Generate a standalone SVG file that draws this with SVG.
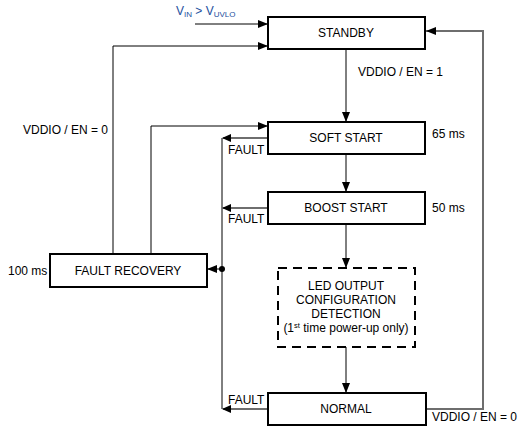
<svg xmlns="http://www.w3.org/2000/svg" width="525" height="431" viewBox="0 0 525 431">
<style>
text{font-family:"Liberation Sans",Arial,sans-serif;font-size:12px;fill:#000}
.c{text-anchor:middle}
.box{fill:#fff;stroke:#000;stroke-width:2}
.dash{fill:#fff;stroke:#000;stroke-width:2;stroke-dasharray:9,6}
.k{fill:none;stroke:#000;stroke-width:1}
.g{fill:none;stroke:#6e6e6e;stroke-width:2}
.blue{fill:#1e4f9e}
</style>
<defs>
<marker id="a" markerWidth="10" markerHeight="8" refX="9" refY="4" orient="auto" markerUnits="userSpaceOnUse"><path d="M0,0L10,4L0,8Z" fill="#000"/></marker>
</defs>
<rect width="525" height="431" fill="#fff"/>
<g id="connectors">
<line class="k" x1="195" y1="24" x2="267" y2="24" marker-end="url(#a)"/>
<line class="k" x1="346" y1="50" x2="346" y2="121" marker-end="url(#a)"/>
<line class="k" x1="346" y1="155" x2="346" y2="191" marker-end="url(#a)"/>
<line class="k" x1="346" y1="225" x2="346" y2="267" marker-end="url(#a)"/>
<line class="k" x1="346" y1="347" x2="346" y2="392" marker-end="url(#a)"/>
<polyline class="k" points="113,254 113,46 267,46" marker-end="url(#a)"/>
<polyline class="k" points="151,254 151,126 267,126" marker-end="url(#a)"/>
<polyline class="g" points="267,138 223,138"/>
<path d="M222,138 l9,-4 v8z" fill="#000"/>
<polyline class="g" points="267,208 223,208"/>
<path d="M222,208 l9,-4 v8z" fill="#000"/>
<polyline class="g" points="267,409 223,409"/>
<path d="M222,409 l9,-4 v8z" fill="#000"/>
<line class="k" x1="222" y1="138" x2="222" y2="409"/>
<line class="k" x1="222" y1="269" x2="208" y2="269" marker-end="url(#a)"/>
<circle cx="222" cy="269" r="3" fill="#000"/>
<polyline class="g" points="427,409 483,409 483,31 426,31"/>
<path d="M426,31 l10,-4 v8z" fill="#000"/>
</g>
<g id="standby"><rect class="box" x="268" y="17" width="157" height="32"/><text class="c" x="346" y="37">STANDBY</text></g>
<g id="softstart"><rect class="box" x="268" y="122" width="157" height="32"/><text class="c" x="346" y="142">SOFT START</text></g>
<g id="booststart"><rect class="box" x="268" y="192" width="157" height="32"/><text class="c" x="346" y="212">BOOST START</text></g>
<g id="faultrecovery"><rect class="box" x="50" y="254" width="157" height="33"/><text class="c" x="128" y="275">FAULT RECOVERY</text></g>
<g id="detection"><rect class="dash" x="278" y="268" width="137" height="79"/>
<text class="c" x="346" y="290">LED OUTPUT</text>
<text class="c" x="346" y="304">CONFIGURATION</text>
<text class="c" x="346" y="318">DETECTION</text>
<text class="c" x="346" y="332">(1<tspan font-size="7.5" dy="-4">st</tspan><tspan dy="4"> time power-up only)</tspan></text></g>
<g id="normal"><rect class="box" x="268" y="393" width="158" height="32"/><text class="c" x="346" y="413">NORMAL</text></g>
<g id="labels">
<text class="blue" x="176" y="15">V<tspan font-size="8" dy="2">IN</tspan><tspan dy="-2"> &gt; V</tspan><tspan font-size="8" dy="2">UVLO</tspan></text>
<text x="358" y="76">VDDIO / EN = 1</text>
<text x="23" y="134">VDDIO / EN = 0</text>
<text x="432" y="138">65 ms</text>
<text x="432" y="212">50 ms</text>
<text x="8" y="275">100 ms</text>
<text x="228" y="154">FAULT</text>
<text x="228" y="223">FAULT</text>
<text x="228" y="404">FAULT</text>
<text x="432" y="421">VDDIO / EN = 0</text>
</g>
</svg>
